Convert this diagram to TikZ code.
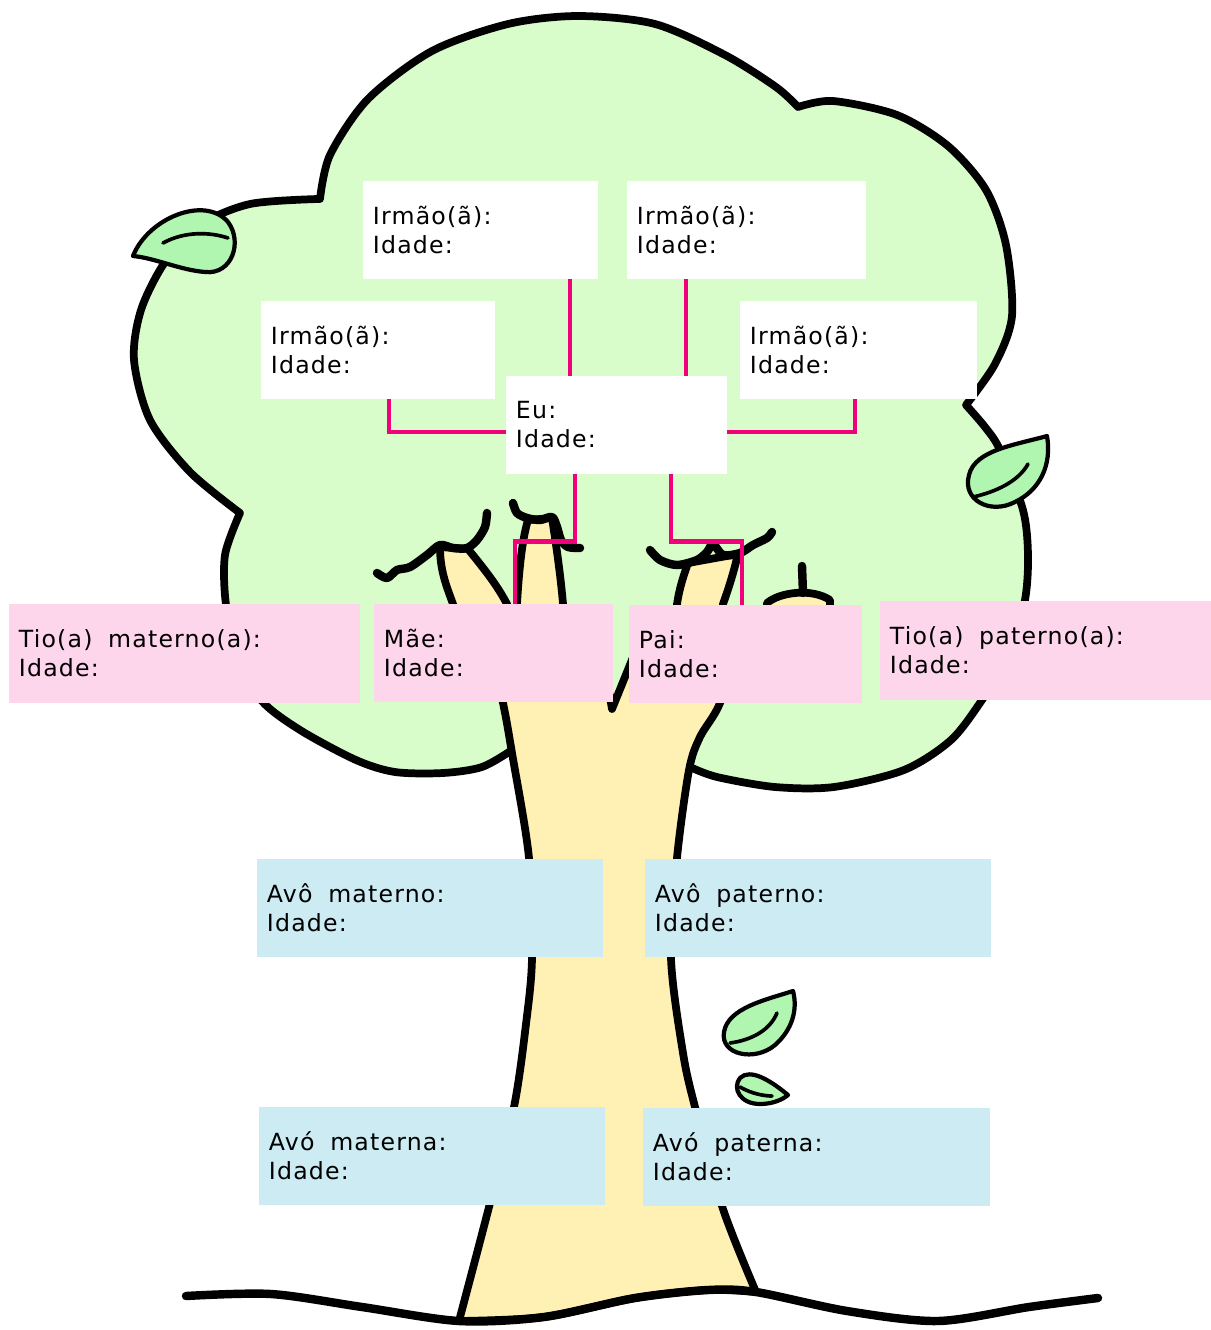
\documentclass[tikz,border=0pt]{standalone}
\usepackage{fontspec}
\setmainfont{DejaVu Sans}[LetterSpace=5]

\definecolor{canopygreen}{RGB}{217,252,203}
\definecolor{leafgreen}{RGB}{176,246,176}
\definecolor{trunkyellow}{RGB}{255,240,179}
\definecolor{cardpink}{RGB}{253,214,236}
\definecolor{cardblue}{RGB}{204,235,242}
\definecolor{linkpink}{RGB}{240,0,122}

\tikzset{
  card/.style={rectangle, inner xsep=0.25cm, inner ysep=0pt, minimum height=2.45cm,
    align=left, font=\fontsize{16.8}{20.6}\selectfont},
  sibcard/.style={card, fill=white},
  parcard/.style={card, fill=cardpink},
  grandcard/.style={card, fill=cardblue},
  link/.style={draw=linkpink, line width=3.3pt},
  treeline/.style={draw=black, line width=5.5pt, line join=round, line cap=round},
  twig/.style={draw=black, line width=6pt, line join=round, line cap=round},
  leaf/.style={fill=leafgreen, draw=black, line width=3pt, line join=round},
  leafvein/.style={draw=black, line width=2.6pt, line cap=round},
}

\begin{document}
\begin{tikzpicture}[x=0.025cm,y=-0.025cm]
\useasboundingbox (0,0) rectangle (1211,1330);
\fill[white] (0,0) rectangle (1211,1330);

% canopy
\filldraw[treeline, fill=canopygreen]
  plot[smooth] coordinates {(512,750) (482,767) (443,773) (395,772) (356,760) (300,730) (261,700) (238,655) (226,605) (225,555) (240,513)}
  -- plot[smooth] coordinates {(240,513) (190,472) (150,420) (134,360) (141,310) (165,262) (200,225) (250,204) (318,199)}
  -- plot[smooth] coordinates {(320,199) (330,155) (368,99) (432,51) (508,24) (578,16) (655,24) (725,55) (776,87) (798,107)}
  -- plot[smooth] coordinates {(798,107) (833,101) (897,115) (948,146) (986,190) (1006,245) (1012,316) (995,364) (966,405)}
  -- plot[smooth] coordinates {(966,405) (985,427) (1000,450) (1023,510) (1028,555) (1025,600) (1010,655) (982,700) (951,740) (904,770) (834,787) (775,787) (717,777) (690,767)}
  -- cycle;

% trunk
\filldraw[treeline, fill=trunkyellow]
  plot[smooth] coordinates {(459,1321) (489,1207) (514,1107) (526,1024) (532,958) (529,858) (512,753) (503,703) (488,640)}
  -- (600,640) -- (612,709) -- (640,640) -- (738,640)
  -- plot[smooth] coordinates {(738,640) (720,703) (700,737) (689,770) (677,858) (671,958) (683,1053) (695,1107) (723,1209) (756,1292)}
  -- plot[smooth] coordinates {(756,1292) (708,1290) (635,1298) (544,1317) (459,1321)}
  -- cycle;

% branches
\filldraw[treeline, fill=trunkyellow] (462,640) -- (453,604) .. controls (446,585) and (440,570) .. (440,547)
  -- (468,549) .. controls (485,570) and (497,585) .. (507,604) -- (516,640) -- cycle;
\filldraw[treeline, fill=trunkyellow] (517,640) -- (517,604) .. controls (519,570) and (522,540) .. (528,520)
  -- (552,518) .. controls (557,550) and (561,580) .. (563,604) -- (565,640) -- cycle;
\filldraw[treeline, fill=trunkyellow] (674,640) -- (677,604) .. controls (680,585) and (684,575) .. (688,563)
  -- (738,554) .. controls (733,575) and (728,590) .. (723,604) -- (720,640) -- cycle;
\filldraw[treeline, fill=trunkyellow] (765,640) -- (767,603) .. controls (780,592) and (812,588) .. (830,600) -- (830,640) -- cycle;
\draw[twig] (802,566) -- (803,593);

% twigs
\draw[twig] plot[smooth] coordinates {(377,573) (387,578) (397,570) (410,567) (427,555) (440,545) (453,548) (467,548) (477,540) (485,527) (487,513)};
\draw[twig] plot[smooth] coordinates {(513,503) (517,513) (527,518) (540,520) (552,517) (557,527) (561,540) (568,547) (580,548)};
\draw[twig] plot[smooth] coordinates {(650,550) (660,560) (677,565) (697,560) (707,552) (713,544) (723,555) (740,553) (753,545) (767,538) (772,532)};

% leaves
\filldraw[leaf] (133,256) .. controls (148,218) and (205,195) .. (228,222) .. controls (243,242) and (232,275) .. (205,272)
  .. controls (180,270) and (155,258) .. (133,256) -- cycle;
\draw[leafvein] (163,243) .. controls (185,231) and (210,232) .. (228,238);

\filldraw[leaf] (1047,436) .. controls (1015,445) and (975,450) .. (969,475) .. controls (962,500) and (990,515) .. (1015,502)
  .. controls (1040,490) and (1052,465) .. (1047,436) -- cycle;
\draw[leafvein] (1028,464) .. controls (1018,482) and (995,492) .. (973,497);

\filldraw[leaf] (793,991) .. controls (765,1000) and (728,1008) .. (724,1032) .. controls (720,1055) and (755,1062) .. (775,1045)
  .. controls (792,1030) and (798,1010) .. (793,991) -- cycle;
\draw[leafvein] (777,1013) .. controls (770,1030) and (752,1040) .. (730,1043);

\filldraw[leaf] (788,1095) .. controls (770,1080) and (750,1068) .. (740,1078) .. controls (732,1088) and (740,1104) .. (760,1104)
  .. controls (772,1104) and (782,1100) .. (788,1095) -- cycle;
\draw[leafvein] (740,1087) .. controls (752,1094) and (765,1096) .. (772,1096);

% ground
\draw[treeline, line width=6pt] plot[smooth] coordinates {(186,1296) (271,1294) (362,1307) (459,1321) (544,1317) (635,1298) (708,1290) (756,1292) (847,1311) (938,1321) (1029,1307) (1098,1298)};

% siblings and me
\node[sibcard, text width=5.375cm] (sib1) at (480.5,230) {Irmão(ã):\\Idade:};
\node[sibcard, text width=5.475cm] (sib2) at (746.5,230) {Irmão(ã):\\Idade:};
\node[sibcard, text width=5.35cm] (sib3) at (378,350) {Irmão(ã):\\Idade:};
\node[sibcard, text width=5.425cm] (sib4) at (858.5,350) {Irmão(ã):\\Idade:};
\node[sibcard, text width=5.025cm] (eu) at (616.5,425) {Eu:\\Idade:};

% parents, uncles
\node[parcard, text width=8.275cm] (tiomat) at (184.5,653.5) {Tio(a)\ \ materno(a):\\Idade:};
\node[parcard, text width=5.475cm] (mae) at (493.5,653) {Mãe:\\Idade:};
\node[parcard, text width=5.325cm] (pai) at (745.5,654) {Pai:\\Idade:};
\node[parcard, text width=7.775cm] (tiopat) at (1045.5,650.5) {Tio(a)\ \ paterno(a):\\Idade:};

% grandparents
\node[grandcard, text width=8.15cm] (avomat) at (430,908) {Avô\ \ materno:\\Idade:};
\node[grandcard, text width=8.15cm] (avopat) at (818,908) {Avô\ \ paterno:\\Idade:};
\node[grandcard, text width=8.15cm] (avomae) at (432,1156) {Avó\ \ materna:\\Idade:};
\node[grandcard, text width=8.175cm] (avopae) at (816.5,1157) {Avó\ \ paterna:\\Idade:};

% links
\draw[link] (sib1.south -| 570,0) -- (eu.north -| 570,0);
\draw[link] (sib2.south -| 686,0) -- (eu.north -| 686,0);
\draw[link] (sib3.south -| 389,0) |- (eu.west |- 0,432);
\draw[link] (sib4.south -| 855,0) |- (eu.east |- 0,432);
\draw[link] (eu.south -| 575,0) -- ++(0,67) -| (mae.north -| 515,0);
\draw[link] (eu.south -| 671,0) -- ++(0,67) -| (pai.north -| 742,0);

\end{tikzpicture}
\end{document}
